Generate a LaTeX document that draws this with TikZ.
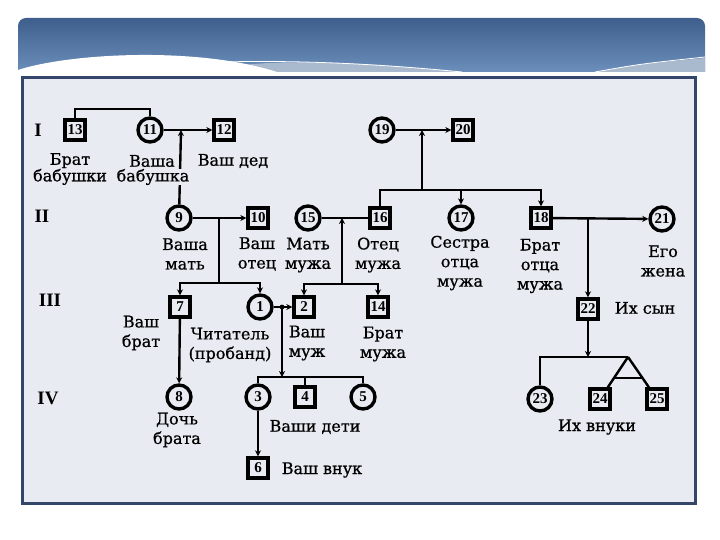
\documentclass[tikz,border=0pt]{standalone}
\usepackage{fontspec}
\setmainfont{Liberation Serif}
\newfontfamily\lblfont[FakeBold=0.8]{DejaVu Serif}
\usetikzlibrary{arrows.meta,calc}
\definecolor{hdrtop}{HTML}{3E5F8C}
\definecolor{hdrbot}{HTML}{6C8EBA}
\definecolor{palec}{HTML}{A9B9CE}
\definecolor{panelc}{HTML}{E8ECF2}
\definecolor{framec}{HTML}{34476A}
\begin{document}
\begin{tikzpicture}[x=1pt,y=-1pt,
  sq/.style={draw,line width=3.4pt,minimum size=20pt,inner sep=0pt,font=\fontsize{15}{15}\selectfont\bfseries},
  ci/.style={draw,circle,line width=3.4pt,minimum size=24pt,inner sep=0pt,font=\fontsize{15}{15}\selectfont\bfseries},
  lbl/.style={align=center,font=\lblfont\fontsize{16}{19.5}\selectfont,inner sep=0.5pt},
  lbltop/.style={align=center,font=\lblfont\fontsize{16}{16.5}\selectfont,inner sep=0.5pt},
  gen/.style={font=\fontsize{19}{19}\selectfont\bfseries,inner sep=0pt},
  link/.style={line width=2.4pt},
  arr/.style={link,-{Stealth[length=6pt,width=6pt]}}]
\useasboundingbox (0,0) rectangle (720,540);
% header band
\shade[top color=hdrtop,bottom color=hdrbot] (18,72) [rounded corners=8pt] -- (18,18) -- (705,18) [sharp corners] -- (705,72) -- cycle;
\fill[palec] (200,72) .. controls (260,58) and (340,60) .. (462,72) -- cycle;
\draw[white,line width=0.8pt] (221,62) .. controls (300,60) and (380,64) .. (462,72);
\fill[white] (18,73) -- (18,70) .. controls (70,53) and (200,46) .. (280,73) -- cycle;
\fill[palec] (595,72) .. controls (640,64) .. (705,58) -- (705,72) -- cycle;
\draw[white,line width=0.8pt] (595,72) .. controls (640,64) .. (705,57);
% panel
\draw[line width=3pt,draw=framec,fill=panelc] (22,78) rectangle (695,503);
% generation labels
\node[gen] (gI) at (38,130) {I};
\node[gen] (gII) at (42,216) {II};
\node[gen] (gIII) at (50,300) {III};
\node[gen] (gIV) at (48,398) {IV};
% generation I
\node[sq] (n13) at (75,130) {13};
\node[ci] (n11) at (150,130) {11};
\node[sq] (n12) at (224,130) {12};
\node[ci] (n19) at (382,130) {19};
\node[sq] (n20) at (463,130) {20};
% generation II
\node[ci] (n9) at (179,218) {9};
\node[sq] (n10) at (258,218) {10};
\node[ci] (n15) at (308,218) {15};
\node[sq] (n16) at (380,218) {16};
\node[ci] (n17) at (461,218) {17};
\node[sq] (n18) at (541,218) {18};
\node[ci] (n21) at (662,219) {21};
% generation III
\node[sq] (n7) at (180,307) {7};
\node[ci] (n1) at (260,307) {1};
\node[sq] (n2) at (304,307) {2};
\node[sq] (n14) at (378,307) {14};
\node[sq] (n22) at (588,309) {22};
% generation IV
\node[ci] (n8) at (179,397) {8};
\node[ci] (n3) at (258,397) {3};
\node[sq] (n4) at (305,397) {4};
\node[ci] (n5) at (363,397) {5};
\node[ci] (n23) at (540,399) {23};
\node[sq] (n24) at (600,399) {24};
\node[sq] (n25) at (657,399) {25};
\node[sq] (n6) at (258,468) {6};
% junction coordinates
\coordinate (t13) at (75,109);
\coordinate (m1) at (181,130);
\coordinate (m2) at (219,218);
\coordinate (s2) at (219,283);
\coordinate (m3) at (342,218);
\coordinate (s3) at (342,284);
\coordinate (m4) at (422,130);
\coordinate (s4) at (422,190);
\coordinate (m5) at (282,307);
\coordinate (s5) at (282,377);
\coordinate (m6) at (588,219);
\coordinate (s6) at (588,357);
\coordinate (ap) at (628,357);
% connectors
\draw[link] (n13) -- (t13) -| (n11);
\draw[arr] (n11) -- (n12);
\draw[arr] (n9) -- (m1);
\draw[arr] (n9) -- (n10);
\draw[link] (m2) -- (s2);
\draw[arr] (s2) -| (n7);
\draw[arr] (s2) -| (n1);
\draw[link] (n15) -- (n16);
\draw[arr] (s3) -- (m3);
\draw[arr] (s3) -| (n2);
\draw[arr] (s3) -| (n14);
\draw[arr] (n19) -- (n20);
\draw[arr] (s4) -- (m4);
\draw[link] (s4) -| (n16);
\draw[arr] (s4) -| (n17);
\draw[arr] (s4) -| (n18);
\draw[arr] (n1) -- (n2);
\fill (m5) circle (2.4pt);
\draw[arr] (m5) -- (s5);
\draw[link] (s5) -| (n3);
\draw[link] (s5) -| (n4);
\draw[link] (s5) -| (n5);
\draw[arr] (n7) -- (n8);
\draw[arr] (n3) -- (n6);
\draw[arr] (n18) -- (n21);
\draw[arr] (m6) -- (n22);
\draw[arr] (n22) -- (s6);
\draw[link] (s6) -| (n23);
\draw[link] (s6) -- (ap);
\draw[link] (ap) -- (n24);
\draw[link] (ap) -- (n25);
\draw[link] ($(ap)!0.5!(n24)$) -- ($(ap)!0.5!(n25)$);
% labels
\node[lbltop] (l13) at (70,169) {Брат\\бабушки};
\node[lbltop] (l11a) at (152,161) {Ваша};
\node[lbltop,fill=panelc] (l11b) at (153,177) {бабушка};
\node[lbltop] (l12) at (233,161) {Ваш дед};
\node[lbl] (l9) at (185,254) {Ваша\\мать};
\node[lbl] (l10) at (257,254) {Ваш\\отец};
\node[lbl] (l15) at (308,255) {Мать\\мужа};
\node[lbl] (l16) at (378,255) {Отец\\мужа};
\node[lbl] (l17) at (460,263) {Сестра\\отца\\мужа};
\node[lbl] (l18) at (540,266) {Брат\\отца\\мужа};
\node[lbl] (l21) at (663,261) {Его\\жена};
\node[lbl] (l7) at (141,333) {Ваш\\брат};
\node[lbl] (l1) at (230,345) {Читатель\\(пробанд)};
\node[lbl] (l2) at (307,343) {Ваш\\муж};
\node[lbl] (l14) at (383,344) {Брат\\мужа};
\node[lbl] (l8) at (177,430) {Дочь\\брата};
\node[lbl] (l345) at (315,427) {Ваши дети};
\node[lbl] (l6) at (322,470) {Ваш внук};
\node[lbl] (l22) at (645,308) {Их сын};
\node[lbl] (l2325) at (597,427) {Их внуки};
\end{tikzpicture}
\end{document}
